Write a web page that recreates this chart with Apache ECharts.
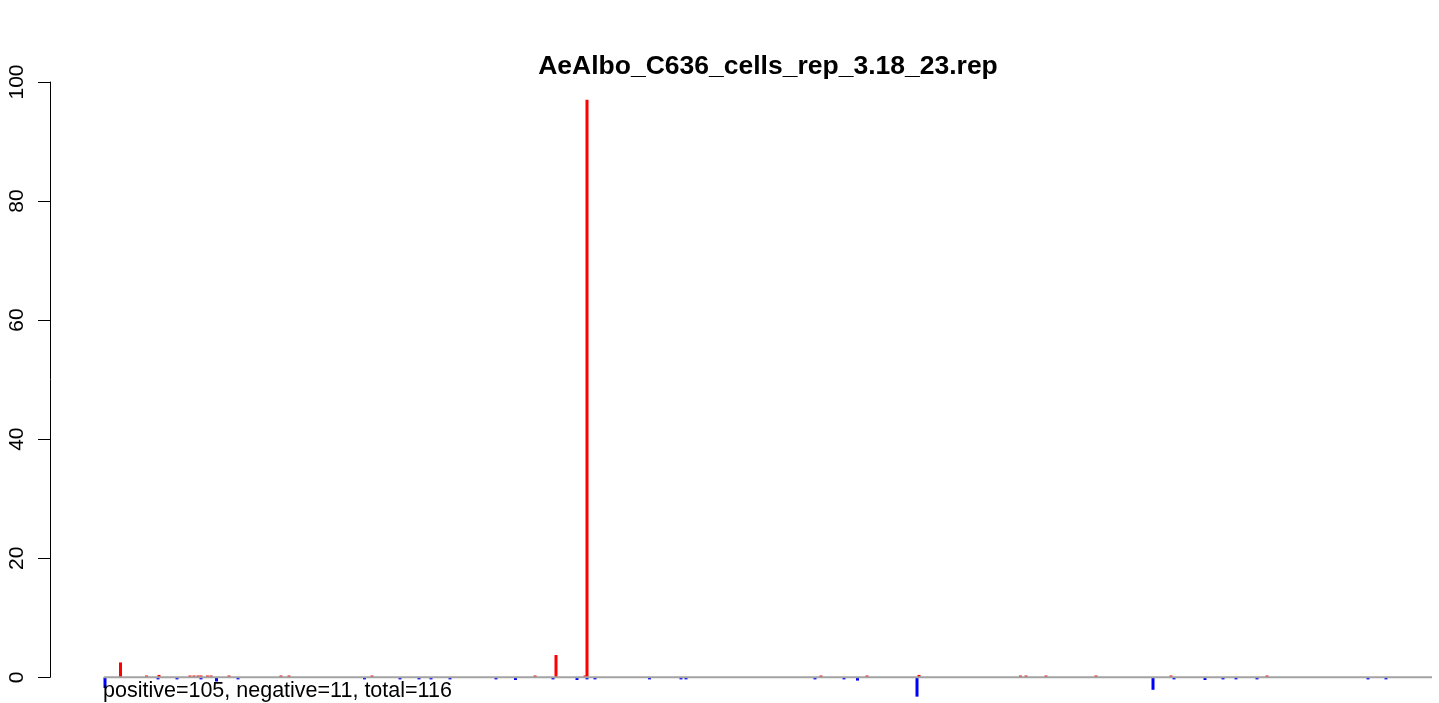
<!DOCTYPE html>
<html>
<head>
<meta charset="utf-8">
<script src="https://cdn.jsdelivr.net/npm/echarts@6/dist/echarts.min.js"></script>
<style>
html,body{margin:0;padding:0;background:#fff;}
#chart{width:1439px;height:703px;}
</style>
</head>
<body>
<div id="chart"></div>
<script>
// Chart data (positions along the reference)
const chartTitle = "AeAlbo_C636_cells_rep_3.18_23.rep";
const summaryText = "positive=105, negative=11, total=116";
const yTicks = [0, 20, 40, 60, 80, 100];

const positivePos = [17.5, 43.5, 56, 87, 91, 95, 98, 104.5, 108, 126, 178, 186, 269, 432, 453, 482, 484, 718, 764, 816, 917.5, 923, 943, 993, 1068, 1164];
const positiveVal = [2.5, 0.3, 0.4, 0.3, 0.3, 0.3, 0.3, 0.3, 0.3, 0.3, 0.3, 0.3, 0.3, 0.3, 3.75, 0.3, 97, 0.3, 0.3, 0.4, 0.3, 0.3, 0.3, 0.3, 0.3, 0.3];

const negativePos = [2, 55, 74, 98, 113.5, 135, 261.5, 297, 316, 328, 347, 393, 412.5, 450, 474, 484, 492, 546.5, 578, 583, 712, 741, 754.5, 814, 1050, 1071, 1102, 1120, 1133, 1154, 1265, 1283];
const negativeVal = [-1.8, -0.35, -0.35, -0.35, -0.7, -0.35, -0.35, -0.35, -0.35, -0.35, -0.35, -0.35, -0.45, -0.35, -0.45, -0.35, -0.35, -0.35, -0.35, -0.35, -0.35, -0.35, -0.55, -3.25, -2.1, -0.35, -0.45, -0.35, -0.35, -0.35, -0.35, -0.35];

const refStart = 1, refEnd = 1329;

const FONT = "'Liberation Sans', Arial, Helvetica, sans-serif";
const chart = echarts.init(document.getElementById('chart'));
chart.setOption({
  animation: false,
  backgroundColor: '#ffffff',
  title: [
    { text: chartTitle, left: 768, top: 53, textAlign: 'center', padding: 0,
      textStyle: { fontFamily: FONT, fontSize: 26.5, fontWeight: 'bold', color: '#000' } },
    { text: summaryText, left: 103, top: 680, padding: 0,
      textStyle: { fontFamily: FONT, fontSize: 21.5, fontWeight: 'normal', color: '#000' } }
  ],
  grid: { left: 50, right: 0, top: 82, bottom: 25.7, containLabel: false },
  xAxis: { type: 'value', min: -53, max: 1336, show: false },
  yAxis: {
    type: 'value', min: 0, max: 100, interval: 20,
    axisLine: { show: true, onZero: false, lineStyle: { color: '#000', width: 1 } },
    axisTick: { show: true, length: 12, lineStyle: { color: '#000', width: 1 } },
    axisLabel: { rotate: 90, margin: 22, color: '#000', fontFamily: FONT, fontSize: 21,
      formatter: v => yTicks.includes(v) ? String(v) : '' },
    splitLine: { show: false }
  },
  series: [
    { type: 'bar', name: 'positive', barWidth: 3, barGap: '-100%', clip: false,
      itemStyle: { color: '#ff0000' },
      data: positivePos.map((p, i) => [p, positiveVal[i]]) },
    { type: 'bar', name: 'negative', barWidth: 3, barGap: '-100%', clip: false,
      itemStyle: { color: '#0000ff' },
      data: negativePos.map((p, i) => [p, negativeVal[i]]) },
    { type: 'line', name: 'baseline', z: 5, symbol: 'none', clip: false,
      lineStyle: { color: '#a3a3a3', width: 2 },
      data: [[refStart, 0], [refEnd, 0]] }
  ]
});
</script>
</body>
</html>
